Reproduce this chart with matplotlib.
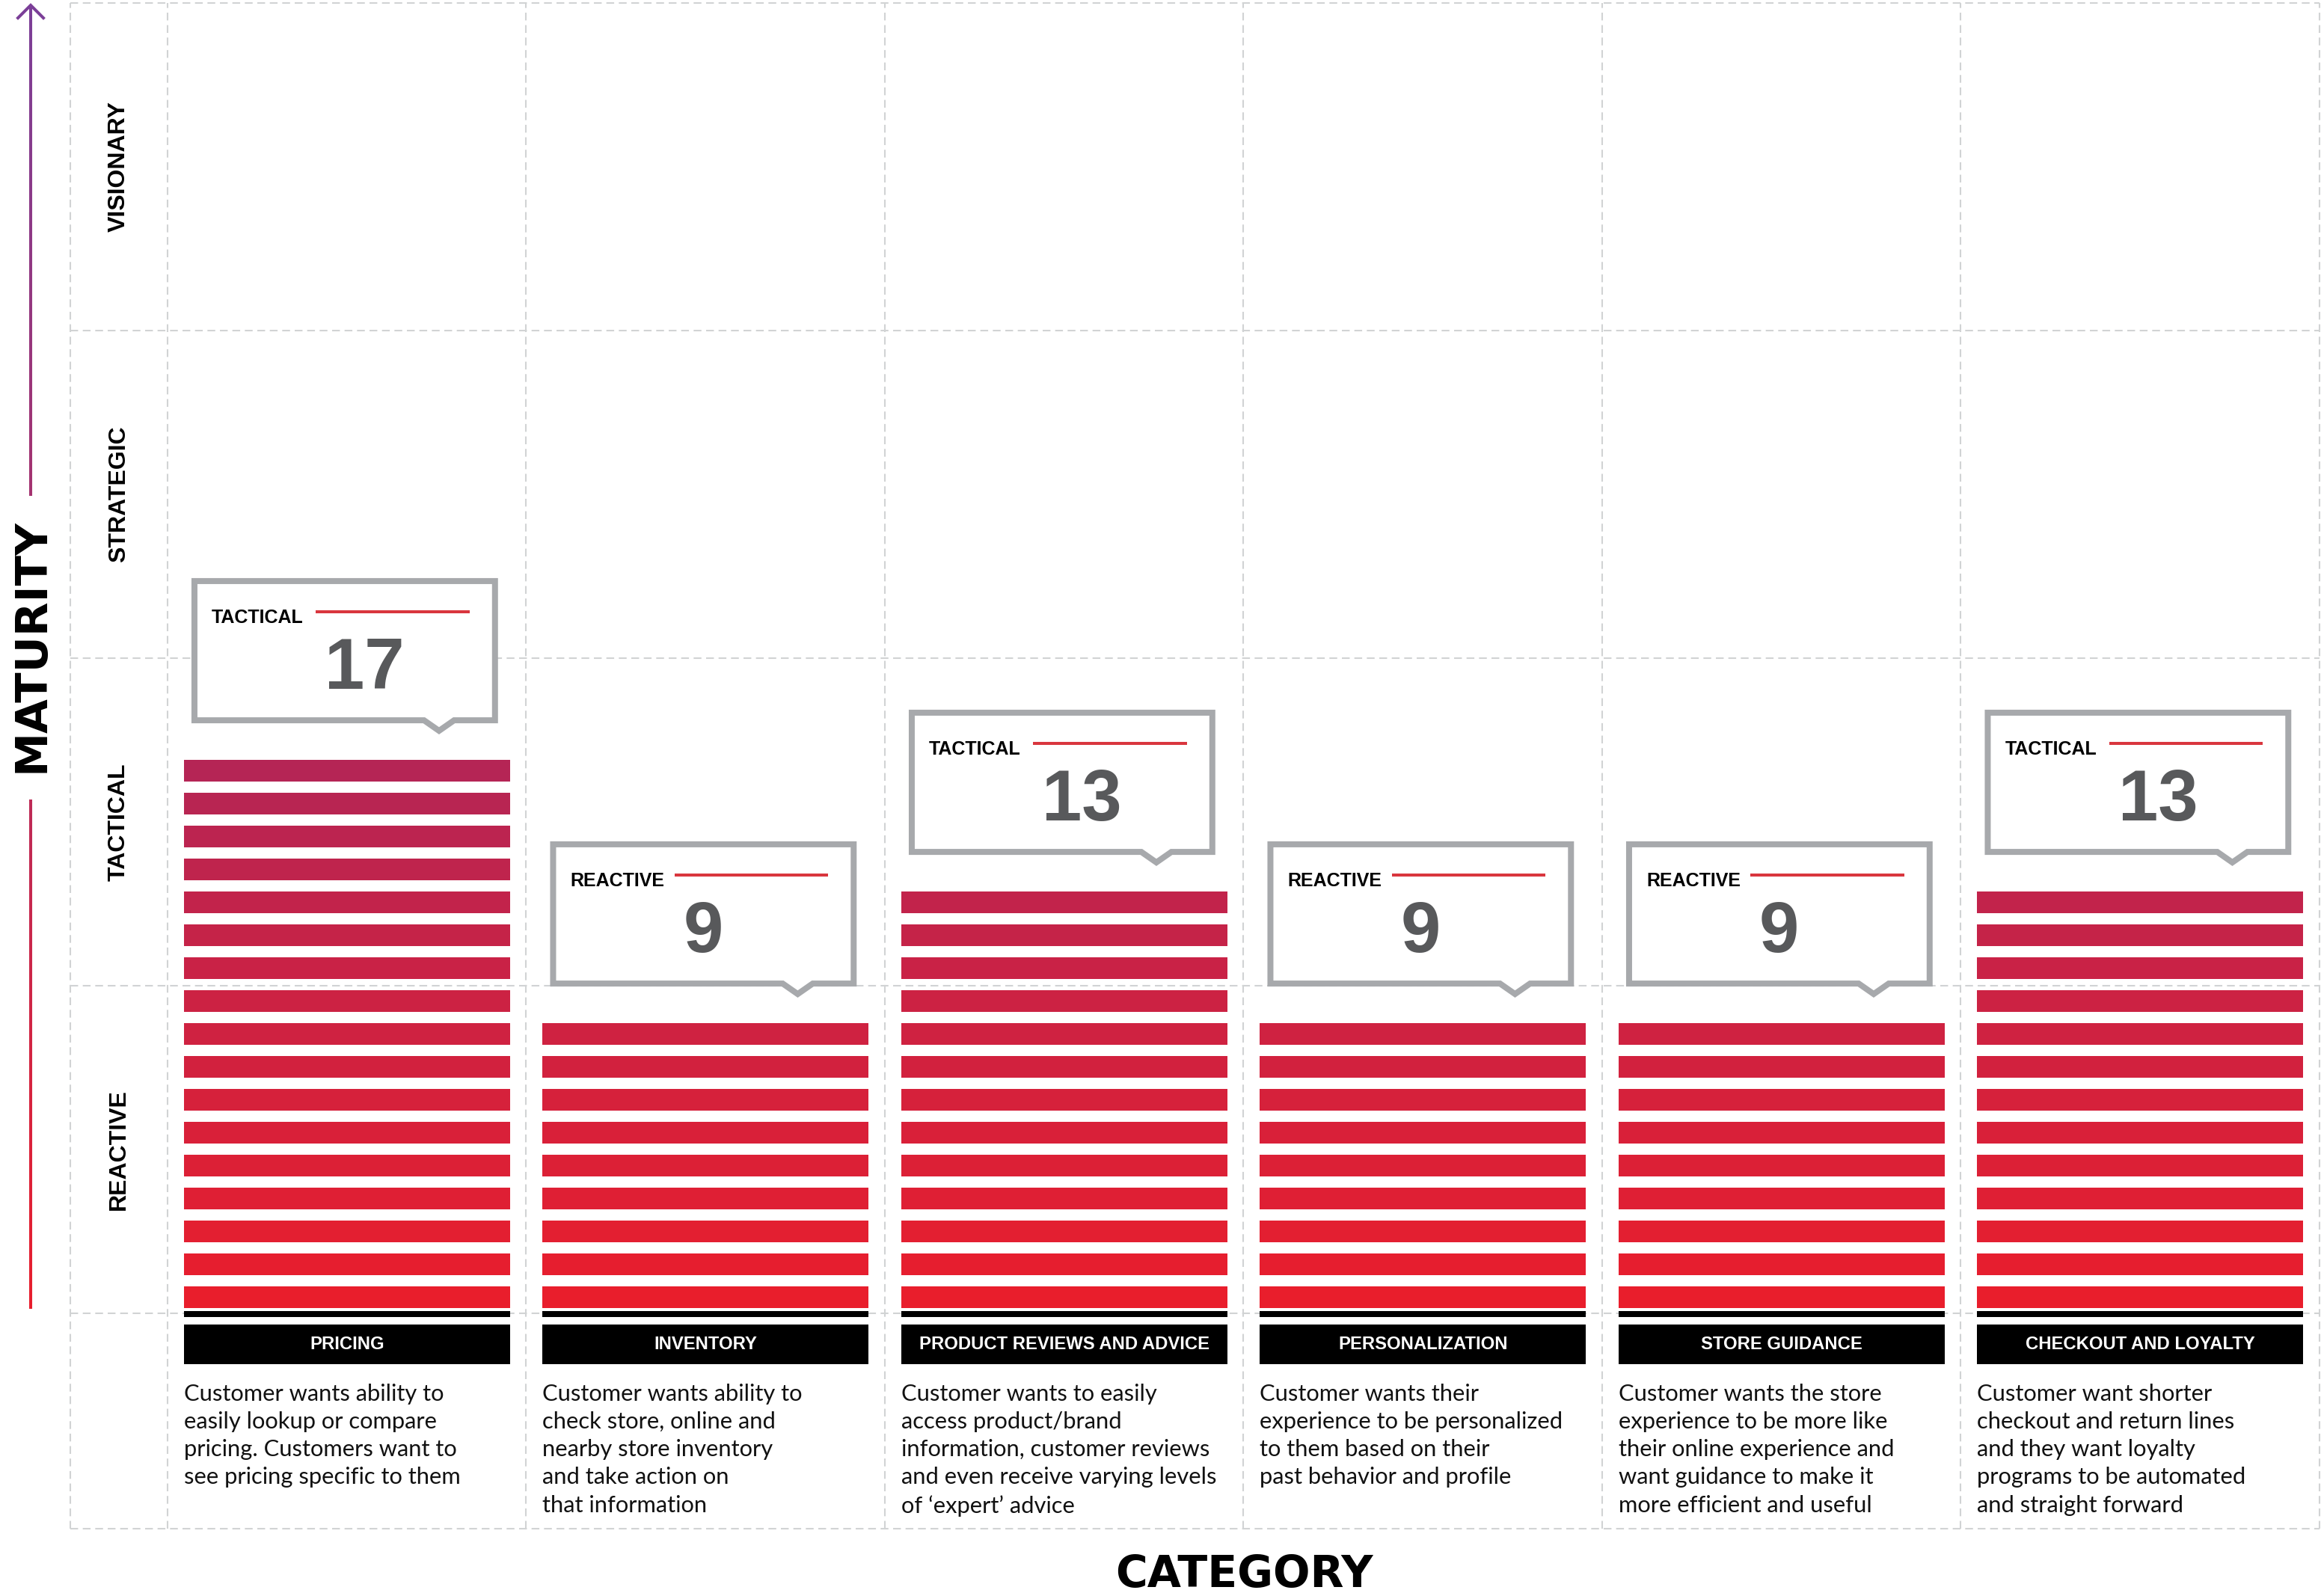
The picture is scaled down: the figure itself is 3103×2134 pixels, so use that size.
import numpy as np
import matplotlib
matplotlib.use("Agg")
import matplotlib.pyplot as plt
from matplotlib.patches import Polygon
from matplotlib.collections import LineCollection
from matplotlib import font_manager as fm

# --- DATA ---
categories = ["PRICING", "INVENTORY", "PRODUCT REVIEWS AND ADVICE",
              "PERSONALIZATION", "STORE GUIDANCE", "CHECKOUT AND LOYALTY"]
counts = [17, 9, 13, 9, 9, 13]
levels = ["TACTICAL", "REACTIVE", "TACTICAL", "REACTIVE", "REACTIVE", "TACTICAL"]
maturity_rows = ["REACTIVE", "TACTICAL", "STRATEGIC", "VISIONARY"]
descriptions = [
    "Customer wants ability to\neasily lookup or compare\npricing. Customers want to\nsee pricing specific to them",
    "Customer wants ability to\ncheck store, online and\nnearby store inventory\nand take action on\nthat information",
    "Customer wants to easily\naccess product/brand\ninformation, customer reviews\nand even receive varying levels\nof \u2018expert\u2019 advice",
    "Customer wants their\nexperience to be personalized\nto them based on their\npast behavior and profile",
    "Customer wants the store\nexperience to be more like\ntheir online experience and\nwant guidance to make it\nmore efficient and useful",
    "Customer want shorter\ncheckout and return lines\nand they want loyalty\nprograms to be automated\nand straight forward",
]

# --- STYLE ---
W, H, DPI = 3103, 2134, 100
GRID = "#D1D3D4"
BOX_EDGE = "#A7A9AC"
NUM_COLOR = "#58595B"
RED_LINE = "#D9363E"
BOTTOM_RED = np.array([233, 30, 44]) / 255
TOP_CRIMSON = np.array([181, 37, 85]) / 255
PITCH = 44 / 43.8   # stripe pitch in y units

installed = {f.name for f in fm.fontManager.ttflist}


def pick(*names):
    for n in names:
        if n in installed:
            return n
    return "DejaVu Sans"


HEAVY = "DejaVu Sans"
BODY = pick("Lato", "Open Sans", "DejaVu Sans")
HELV = pick("Liberation Sans", "DejaVu Sans")

fig = plt.figure(figsize=(W / DPI, H / DPI), dpi=DPI)
renderer = fig.canvas.get_renderer()


def fit_size(txt, target_w, **kw):
    t = fig.text(0, 0, txt, fontsize=100, **kw)
    w = t.get_window_extent(renderer).width
    t.remove()
    return 100 * target_w / w


# main chart axes: x = category index, y = stripe units
ax = fig.add_axes([94 / W, (H - 2044) / H, (3101 - 94) / W, 2040 / H])
x_left = -0.5 - 130 / 479.5
y_bottom = -288 / 43.8
ax.set_xlim(x_left, 5.5)
ax.set_ylim(y_bottom, 40.0)
ax.axis("off")

# dashed grid
for xv in [x_left] + list(np.arange(-0.5, 6.0, 1.0)):
    ax.axvline(xv, color=GRID, lw=1.5, dashes=(5, 3), clip_on=False, zorder=0)
for yv in [y_bottom, 0, 10, 20, 30, 40]:
    ax.axhline(yv, color=GRID, lw=1.5, dashes=(5, 3), clip_on=False, zorder=0)

# maturity row labels
for j, lab in enumerate(maturity_rows):
    ax.text(x_left + 65 / 479.5, 5 + 10 * j, lab, rotation=90, ha="center",
            va="center", fontsize=23, fontweight="bold", family=HELV)

# stripe colours go from red at the bottom to crimson at the top
stripe_colors = [BOTTOM_RED + (TOP_CRIMSON - BOTTOM_RED) * k / 16 for k in range(max(counts))]

bar_w = 0.909
xs = np.arange(len(categories))
cat_size = fit_size("PRODUCT REVIEWS AND ADVICE", 388, family=HELV, fontweight="bold")
desc_size = fit_size("and even receive varying levels", 422, family=BODY)

for i, n in enumerate(counts):
    ax.bar(np.full(n, i), 0.66, bottom=np.arange(n) * PITCH + 0.16, width=bar_w,
           color=stripe_colors[:n], zorder=3)

# black base line + category label box
ax.bar(xs, 0.18, bottom=-0.114, width=bar_w, color="black", zorder=3)
ax.bar(xs, 1.21, bottom=-1.55, width=bar_w, color="black", zorder=3)
for i, cat in enumerate(categories):
    ax.text(i, -0.95, cat, ha="center", va="center", color="white",
            fontsize=cat_size, fontweight="bold", family=HELV, zorder=4)
    ax.text(i - bar_w / 2, -2.14, descriptions[i], ha="left", va="top",
            fontsize=desc_size, family=BODY, linespacing=1.40, color="#111111")

# callouts
for i, (n, lev) in enumerate(zip(counts, levels)):
    s_top = (n - 1) * PITCH + 0.82
    cx = i - 0.006
    hw = 0.419
    bot = s_top + 1.21
    top = bot + 4.25
    tipx = cx + 0.263
    poly = [(cx - hw, top), (cx + hw, top), (cx + hw, bot), (tipx + 0.042, bot),
            (tipx, bot - 0.32), (tipx - 0.042, bot), (cx - hw, bot)]
    ax.add_patch(Polygon(poly, closed=True, facecolor="white", edgecolor=BOX_EDGE,
                         lw=5.76, joinstyle="miter", zorder=5))
    ax.text(cx - 0.371, top - 1.28, lev, ha="left", va="baseline", fontsize=18,
            fontweight="bold", family=HELV, zorder=6)
    ax.plot([cx - 0.081, cx + 0.348], [top - 0.94, top - 0.94], color=RED_LINE,
            lw=2.9, solid_capstyle="butt", zorder=6)
    ax.text(cx - 0.056, bot + 0.96, str(n), ha="left", va="baseline", fontsize=69,
            fontweight="bold", family=HELV, color=NUM_COLOR, zorder=6)

# overlay in pixel space for the axis titles and the arrow
ov = fig.add_axes([0, 0, 1, 1])
ov.set_xlim(0, W)
ov.set_ylim(H, 0)
ov.axis("off")

purple = np.array([123, 63, 152]) / 255
red = np.array([232, 30, 45]) / 255
segs, cols = [], []
for y0, y1 in [(7, 663), (1069, 1750)]:
    ys = np.linspace(y0, y1, 60)
    for a, b in zip(ys[:-1], ys[1:]):
        segs.append([(41, a), (41, b)])
        t = ((a + b) / 2 - 7) / (1750 - 7)
        cols.append(purple + (red - purple) * t)
ov.add_collection(LineCollection(segs, colors=cols, linewidths=2.9, capstyle="butt"))
ov.plot([24, 41, 58], [24, 7, 24], color=purple, lw=2.9, solid_joinstyle="miter")

mat_size = fit_size("MATURITY", 340, family=HEAVY, fontweight="bold")
ov.text(42, 863, "MATURITY", rotation=90, ha="center", va="center",
        fontsize=mat_size, fontweight="bold", family=HEAVY)
cat_title = fit_size("CATEGORY", 345, family=HEAVY, fontweight="bold")
ov.text(1663, 2122, "CATEGORY", ha="center", va="baseline",
        fontsize=cat_title, fontweight="bold", family=HEAVY)

fig.savefig("out.png", dpi=DPI)
